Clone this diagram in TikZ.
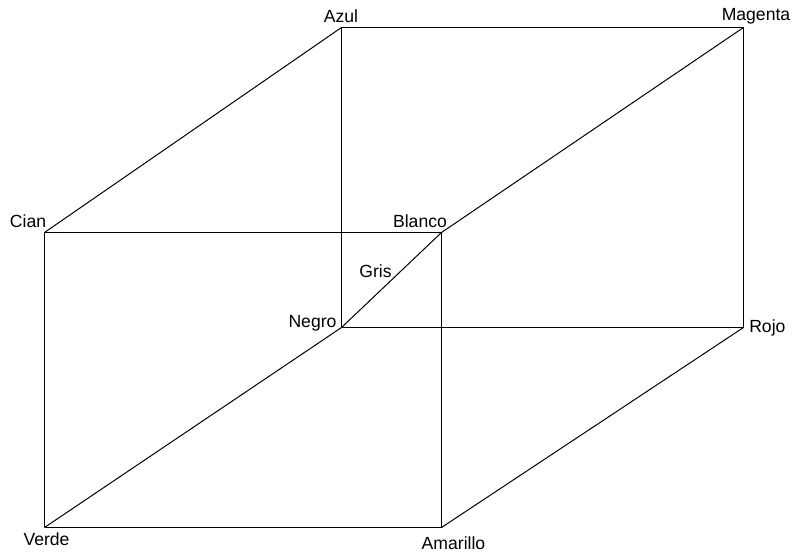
\documentclass[tikz,border=0pt]{standalone}
\usepackage{fontspec}
\setmainfont{Liberation Sans}
\usepackage{tikz}
\usetikzlibrary{positioning}

\begin{document}
\begin{tikzpicture}[
    x=0.75pt, y=-0.75pt,
    edge/.style={line width=0.75pt, draw=black},
    lbl/.style={font=\fontsize{13.2}{15}\selectfont, inner sep=0pt, anchor=base}
  ]
    \useasboundingbox (0,0) rectangle (793,555);
    \coordinate (azul) at (341.5,27.5);
    \coordinate (magenta) at (743.5,27.5);
    \coordinate (cian) at (44.5,232.5);
    \coordinate (blanco) at (441.5,232.5);
    \coordinate (negro) at (341.5,327.5);
    \coordinate (rojo) at (743.5,327.5);
    \coordinate (verde) at (44.5,527.5);
    \coordinate (amarillo) at (441.5,527.5);
    \draw[edge] (azul) -- (magenta);
    \draw[edge] (azul) -- (cian);
    \draw[edge] (azul) -- (negro);
    \draw[edge] (magenta) -- (blanco);
    \draw[edge] (magenta) -- (rojo);
    \draw[edge] (cian) -- (blanco);
    \draw[edge] (cian) -- (verde);
    \draw[edge] (blanco) -- (amarillo);
    \draw[edge] (negro) -- (blanco);
    \draw[edge] (negro) -- (rojo);
    \draw[edge] (negro) -- (verde);
    \draw[edge] (verde) -- (amarillo);
    \draw[edge] (amarillo) -- (rojo);
    \node[lbl] (tAzul) at (341,23) {Azul};
    \node[lbl] (tMagenta) at (756,21) {Magenta};
    \node[lbl] (tCian) at (28,228) {Cian};
    \node[lbl] (tBlanco) at (420,228) {Blanco};
    \node[lbl] (tGris) at (375.5,278) {Gris};
    \node[lbl] (tNegro) at (312.5,328) {Negro};
    \node[lbl, anchor=base west] (tRojo) at (749,333) {Rojo};
    \node[lbl] (tVerde) at (46.5,546) {Verde};
    \node[lbl] (tAmarillo) at (453.5,550) {Amarillo};
\end{tikzpicture}
\end{document}
